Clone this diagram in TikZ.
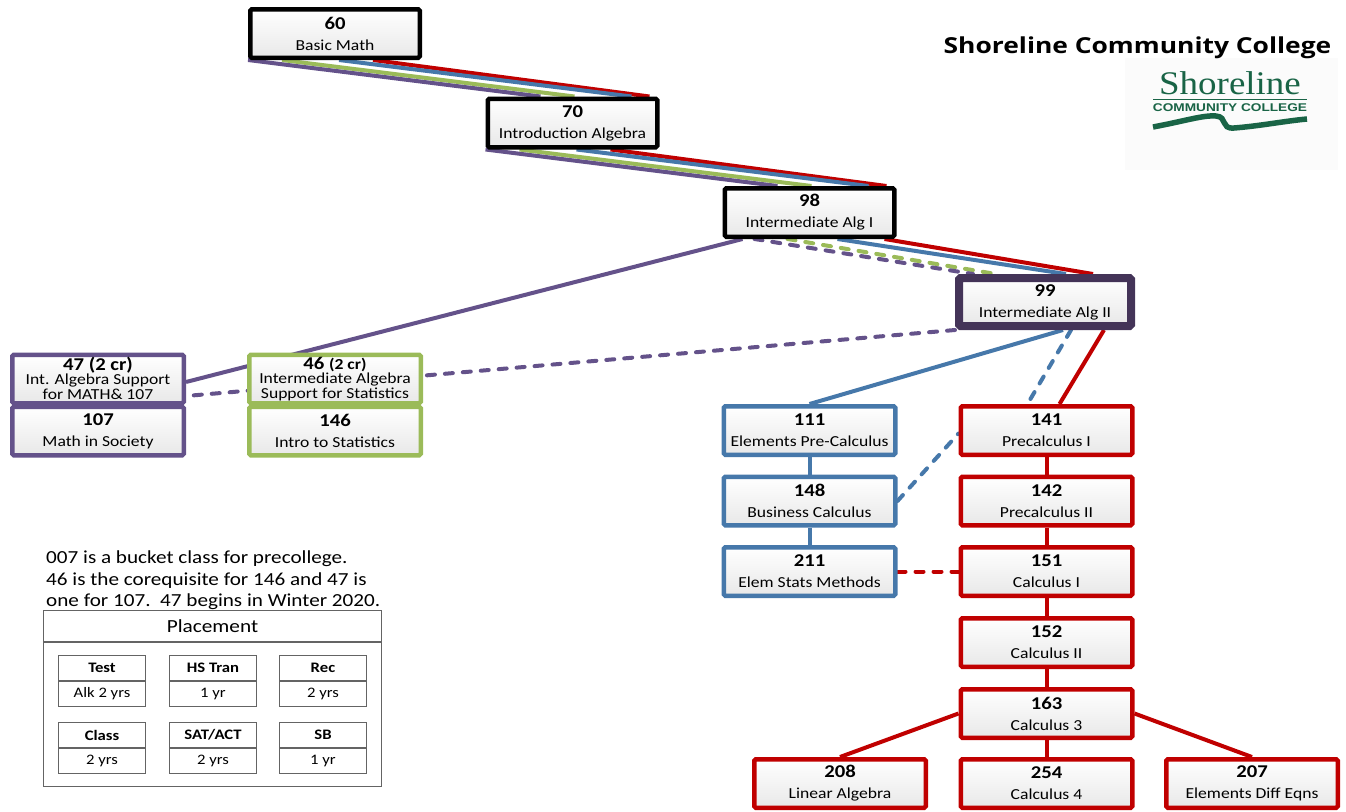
\documentclass[tikz,border=0pt]{standalone}
\usepackage{fontspec}
\setmainfont{Carlito}[FakeStretch=1.15]
\newfontfamily\titlefont{Open Sans}[FakeStretch=1.2]
\newfontfamily\logoserif{Liberation Serif}[FakeStretch=1.12]
\newfontfamily\logosans{Liberation Sans}[FakeStretch=1.22]
\usetikzlibrary{calc,backgrounds}

\definecolor{crsred}{RGB}{192,0,0}
\definecolor{crsblue}{RGB}{70,120,170}
\definecolor{crsgreen}{RGB}{155,187,89}
\definecolor{crspurple}{RGB}{100,82,138}
\definecolor{crsdark}{RGB}{68,52,88}
\definecolor{logogreen}{RGB}{25,100,70}
\definecolor{logobg}{RGB}{251,251,251}
\definecolor{pgray}{RGB}{100,100,100}

\newcommand{\crs}[2]{{\bfseries\fontsize{18}{21}\selectfont #1}\\#2}
\newcommand{\suppfont}{\fontsize{15.3}{14.5}\selectfont\lineskiplimit=-20pt\relax}
\newcommand{\supplift}{\rule[-2pt]{0pt}{2pt}}

\begin{document}
\begin{tikzpicture}[x=1pt, y=-1pt,
	course/.style={draw, line width=4.5pt, rounded corners=1.5pt, top color=white, bottom color=black!9,
		minimum width=171.5, minimum height=48.5, inner sep=0pt, align=center,
		font=\fontsize{15.3}{21}\selectfont},
	blackbox/.style={course, draw=black, minimum width=169.5},
	darkbox/.style={course, draw=crsdark, line width=8pt, minimum width=172, minimum height=48},
	redbox/.style={course, draw=crsred},
	bluebox/.style={course, draw=crsblue},
	greenbox/.style={course, draw=crsgreen},
	purpbox/.style={course, draw=crspurple},
	suppbox/.style={font=\suppfont},
	ln/.style={line width=4pt},
	dashln/.style={line width=4pt, dash pattern=on 8pt off 10pt, line cap=round},
	pbox/.style={draw=pgray, line width=1.3pt, minimum width=86.7, minimum height=24.7,
		inner sep=0pt, font=\fontsize{14.5}{16}\selectfont}
	]

	\useasboundingbox (0,0) rectangle (1346,811);

	% ---- precollege

	\node[blackbox] (b60) at (335,33.5) {\crs{60}{Basic Math}};
	\node[blackbox] (b70) at (572.5,123) {\crs{70}{Introduction Algebra}};
	\node[blackbox] (b98) at (809.5,212.5) {\crs{98}{Intermediate Alg I}};
	\node[darkbox] (b99) at (1045,302) {\crs{99}{Intermediate Alg II}};

	% ---- support classes

	\node[purpbox, suppbox] (b47) at (98,379)
		{{\bfseries\fontsize{18}{14.5}\selectfont 47 (2 cr)}\\Int. Algebra Support\\for MATH\& 107\supplift};
	\node[purpbox] (b107) at (98,431) {\crs{107}{Math in Society}};
	\node[greenbox, suppbox] (b46) at (335,379)
		{{\bfseries\fontsize{18}{14.5}\selectfont 46 \fontsize{15.3}{14.5}\selectfont(2 cr)}\\Intermediate Algebra\\Support for Statistics\supplift};
	\node[greenbox] (b146) at (335,431) {\crs{146}{Intro to Statistics}};

	% ---- college level

	\foreach \n/\t/\y in {111/Elements Pre-Calculus/430.5, 148/Business Calculus/501, 211/Elem Stats Methods/571.5} {
		\node[bluebox] (b\n) at (809.5,\y) {\crs{\n}{\t}};
	}
	\foreach \n/\t/\y in {141/Precalculus I/430.5, 142/Precalculus II/501, 151/Calculus I/571.5,
		152/Calculus II/642.5, 163/Calculus 3/713.5} {
		\node[redbox] (b\n) at (1046.5,\y) {\crs{\n}{\t}};
	}
	\node[redbox] (b208) at (840,783.5) {\crs{208}{Linear Algebra}};
	\node[redbox] (b254) at (1046.5,783.5) {\crs{254}{Calculus 4}};
	\node[redbox] (b207) at (1252,783.5) {\crs{207}{Elements Diff Eqns}};

	% ---- connectors

	\begin{scope}[on background layer]
		\foreach \c/\s/\e in {crsred/125/164, crsblue/91/146, crsgreen/34/89, crspurple/0/55} {
			\draw[ln, \c] ($(b60.south west)+(\s,0)$) -- ($(b70.north west)+(\e,0)$);
			\draw[ln, \c] ($(b70.south west)+(\s,0)$) -- ($(b98.north west)+(\e,0)$);
		}

		\draw[ln, crsred] ($(b98.south west)+(162,0)$) -- ($(b99.north west)+(138,0)$);
		\draw[ln, crsblue] ($(b98.south west)+(115,0)$) -- ($(b99.north west)+(111,0)$);
		\draw[dashln, crsgreen] ($(b98.south west)+(65,0)$) -- ($(b99.north west)+(41,0)$);
		\draw[dashln, crspurple] ($(b98.south west)+(32,0)$) -- ($(b99.north west)+(18,0)$);

		\draw[ln, crspurple] ($(b98.south west)+(20,0)$) -- ($(b47.east)+(0,3)$);
		\draw[dashln, crspurple] (b99.south west) -- ($(b47.east)+(0,17)$);

		\draw[ln, crsblue] ($(b99.south west)+(108,0)$) -- (b111.north);
		\draw[dashln, crsblue] ($(b99.south west)+(116,0)$) -- ($(b141.north west)+(69,0)$);
		\draw[ln, crsred] ($(b99.south west)+(149,0)$) -- ($(b141.north west)+(101,0)$);

		\draw[dashln, crsblue] (b148.east) -- ($(b141.west)+(0,3)$);
		\draw[dashln, crsred] (b211.east) -- (b151.west);

		\draw[ln, crsblue] (b111) -- (b148) -- (b211);
		\draw[ln, crsred] (b141) -- (b142) -- (b151) -- (b152) -- (b163) -- (b254);
		\draw[ln, crsred] (b163.west) -- (b208.north);
		\draw[ln, crsred] (b163.east) -- (b207.north);

		\fill[logobg] (1125,58) rectangle (1338,170);
	\end{scope}

	% ---- title and logo

	\node[font=\titlefont\bfseries\fontsize{22}{24}\selectfont] (title) at (1137.5,48) {Shoreline Community College};

	\node[logogreen, anchor=base, inner sep=0pt, font=\logoserif\fontsize{33}{35}\selectfont] (logo) at (1230,94) {Shoreline};
	\draw[logogreen, line width=1pt] (1153,99.5) -- (1307,99.5);
	\node[logogreen, anchor=base, inner sep=0pt, font=\logosans\bfseries\fontsize{11.2}{12}\selectfont] (logosub) at (1230,111.5) {COMMUNITY COLLEGE};
	\draw[logogreen, line width=5.5pt] (1153,127) .. controls (1185,121) and (1203,115) .. (1216,116)
		.. controls (1228,117) and (1220,129) .. (1234,128) .. controls (1260,126) and (1285,121) .. (1307,119);

	% ---- note

	\node[anchor=north west, align=left, inner sep=0pt, font=\fontsize{18.4}{21.5}\selectfont] (note) at (46,551)
		{007 is a bucket class for precollege.\\46 is the corequisite for 146 and 47 is\\one for 107.~~47 begins in Winter 2020.};

	% ---- placement

	\node[draw=pgray, line width=1.2pt, minimum width=338, minimum height=176, inner sep=0pt] (place) at (212.5,698.5) {};
	\node[font=\fontsize{18.5}{20}\selectfont] (placehd) at (212.5,626.5) {Placement};
	\draw[pgray, line width=1.2pt] ($(place.north west)+(0,32)$) -- ($(place.north east)+(0,32)$);

	\foreach \nm/\hd/\vl/\x/\y in {test/Test/Alk 2 yrs/102/668, hstran/HS Tran/1 yr/213/668, rec/Rec/2 yrs/323/668,
		class/Class/2 yrs/102/735, satact/{SAT/ACT}/2 yrs/213/735, sb/SB/1 yr/323/735} {
		\node[pbox, font=\fontsize{14.5}{16}\selectfont\bfseries] (p\nm) at (\x,\y) {\hd};
		\node[pbox] (p\nm v) at (\x,\y+26) {\vl};
	}

\end{tikzpicture}
\end{document}
